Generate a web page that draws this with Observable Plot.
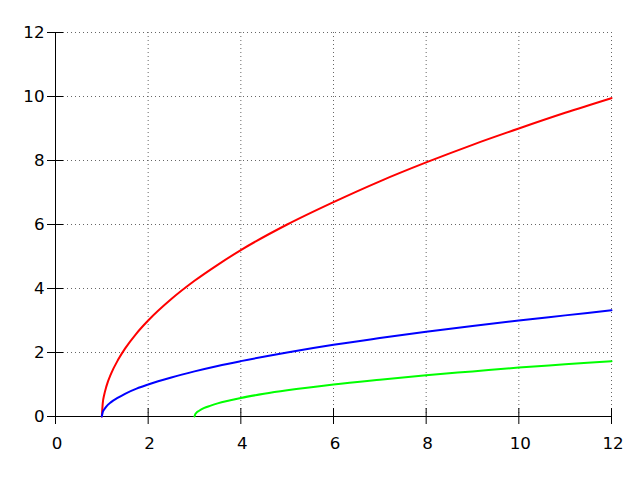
<!DOCTYPE html>
<html>
<head>
<meta charset="utf-8">
<script src="https://cdn.jsdelivr.net/npm/d3@7"></script>
<script src="https://cdn.jsdelivr.net/npm/@observablehq/plot@0.6"></script>
<style>
  html, body { margin: 0; padding: 0; background: #fff; }
  #chart svg { display: block; }
</style>
</head>
<body>
<div id="chart"></div>
<script>
const ticks = [0, 2, 4, 6, 8, 10, 12];
const redX = [1, 1.02, 1.05, 1.1, 1.2, 1.35, 1.5, 1.75, 2, 2.5, 3, 3.5, 4, 5, 6, 7, 8, 9, 10, 11, 12];
const redY = [0, 0.42, 0.67, 0.95, 1.34, 1.77, 2.12, 2.6, 3.0, 3.67, 4.24, 4.74, 5.2, 6.0, 6.7, 7.35, 7.94, 8.49, 9.0, 9.49, 9.95];
const blueX = redX;
const blueY = [0, 0.14, 0.22, 0.32, 0.45, 0.59, 0.71, 0.87, 1.0, 1.22, 1.41, 1.58, 1.73, 2.0, 2.24, 2.45, 2.65, 2.83, 3.0, 3.16, 3.32];
const greenX = [3, 3.02, 3.05, 3.1, 3.2, 3.35, 3.5, 3.75, 4, 4.5, 5, 6, 7, 8, 9, 10, 11, 12];
const greenY = [0, 0.08, 0.13, 0.18, 0.26, 0.34, 0.41, 0.5, 0.58, 0.71, 0.82, 1.0, 1.15, 1.29, 1.41, 1.53, 1.63, 1.73];

const toPts = (xs, ys) => xs.map((x, i) => ({x, y: ys[i]}));
const red = toPts(redX, redY);
const blue = toPts(blueX, blueY);
const green = toPts(greenX, greenY);

const fontSize = 16.7;
const chart = Plot.plot({
  width: 640,
  height: 480,
  marginLeft: 55,
  marginRight: 29,
  marginTop: 32,
  marginBottom: 64,
  style: {fontFamily: "DejaVu Sans", fontSize: fontSize + "px", background: "#fff", color: "#000"},
  x: {domain: [0, 12], ticks: ticks},
  y: {domain: [0, 12], ticks: ticks},
  marks: [
    Plot.gridX(ticks.filter(t => t > 0), {stroke: "#666", strokeOpacity: 1, strokeWidth: 1, strokeDasharray: "1,3"}),
    Plot.gridY(ticks.filter(t => t > 0), {stroke: "#666", strokeOpacity: 1, strokeWidth: 1, strokeDasharray: "1,3"}),
    Plot.ruleY([0], {stroke: "#000", strokeWidth: 1}),
    Plot.ruleX([0], {stroke: "#000", strokeWidth: 1}),
    // tick marks crossing the axes
    Plot.axisX(ticks, {anchor: "bottom", tickSize: 16, dy: -8, tickFormat: () => "", label: null, stroke: "#000", strokeOpacity: 1}),
    Plot.axisY(ticks, {anchor: "left", tickSize: 16, dx: 8, tickFormat: () => "", label: null, stroke: "#000", strokeOpacity: 1}),
    // tick labels
    Plot.axisX(ticks, {anchor: "bottom", tickSize: 0, tickPadding: 21, dx: 1.5, label: null, fontSize: fontSize, fill: "#000"}),
    Plot.axisY(ticks, {anchor: "left", tickSize: 0, tickPadding: 11, label: null, fontSize: fontSize, fill: "#000"}),
    Plot.line(red, {x: "x", y: "y", stroke: "#ff0000", strokeWidth: 2, curve: "monotone-x"}),
    Plot.line(blue, {x: "x", y: "y", stroke: "#0000ff", strokeWidth: 2, curve: "monotone-x"}),
    Plot.line(green, {x: "x", y: "y", stroke: "#00ff00", strokeWidth: 2, curve: "monotone-x"})
  ]
});
document.getElementById("chart").appendChild(chart);
</script>
</body>
</html>
